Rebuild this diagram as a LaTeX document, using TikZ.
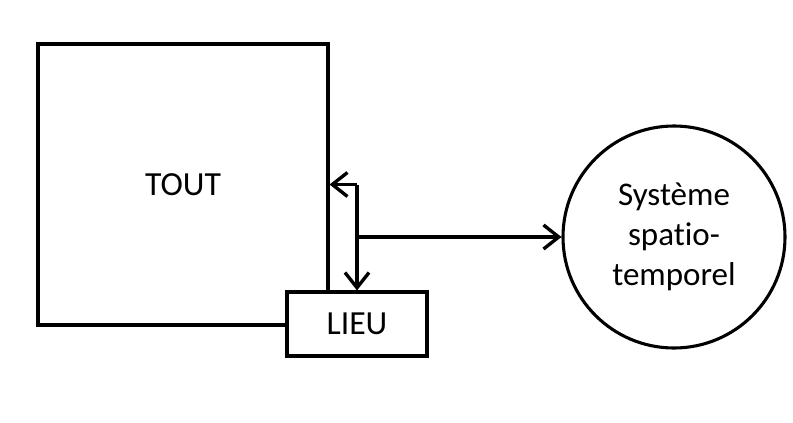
\documentclass[tikz,border=0pt]{standalone}
\usepackage{fontspec}
\setmainfont{Carlito}[Ligatures=NoCommon]
\usetikzlibrary{arrows.meta}
\tikzset{
    boite/.style = {draw=black, line width=2.2pt, fill=white, inner sep=0pt, font=\fontsize{24}{29}\selectfont},
    fleche/.style = {black, line width=2.2pt, -{Straight Barb[length=0.38cm, width=0.6cm, line width=2.4pt]}}
}
\begin{document}
\begin{tikzpicture}
            \useasboundingbox (0,0) rectangle (19.825,10.55);
            \node[boite, minimum width=7.25cm, minimum height=7.025cm] (tout) at (4.575,5.9375) {TOUT};
            \node[boite, minimum width=3.5cm, minimum height=1.6cm] (lieu) at (8.925,2.45) {LIEU};
            \node[boite, circle, minimum size=5.55cm, align=center, font=\fontsize{23.5}{28.5}\selectfont] (sys) at (16.85,4.625) {Système\\spatio-\\temporel};
            \coordinate (coude) at (lieu.north |- tout.east);
            \coordinate (depart) at (lieu.north |- sys.west);
            \draw[fleche] (coude) -- (tout.east);
            \draw[fleche] (coude) -- (lieu.north);
            \draw[fleche] (depart) -- (sys.west);
\end{tikzpicture}
\end{document}
